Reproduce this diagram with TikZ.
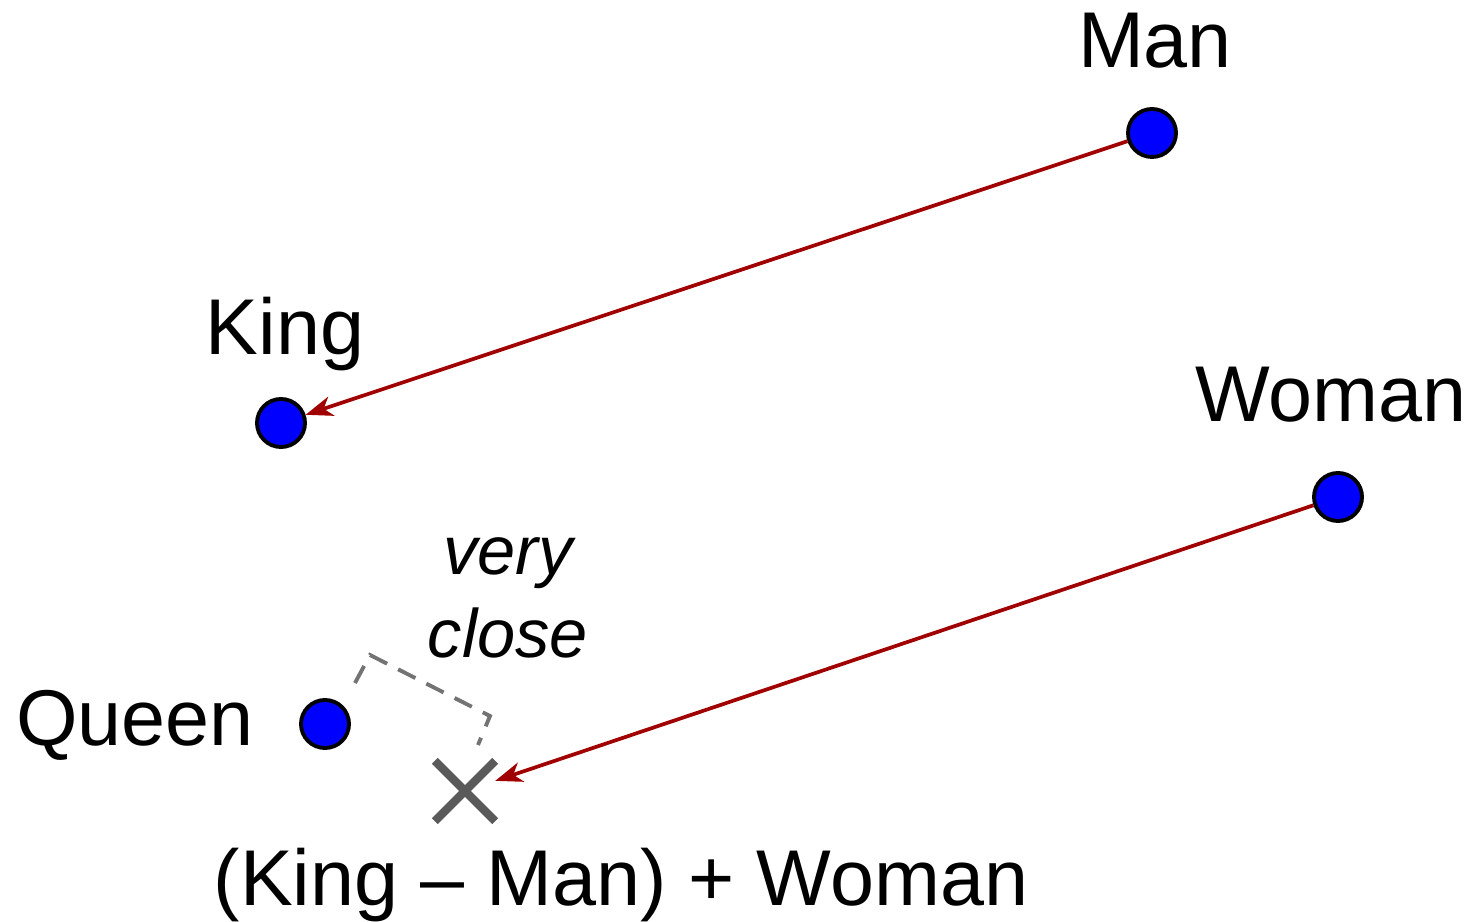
\documentclass[tikz,border=0pt]{standalone}
\usepackage{fontspec}
\setmainfont{Liberation Sans}
\usetikzlibrary{arrows.meta,shapes.misc}
\definecolor{dotblue}{RGB}{0,0,255}
\definecolor{vecred}{RGB}{160,0,0}
\definecolor{crossgray}{RGB}{90,90,90}
\tikzset{
    worddot/.style={circle, draw=black, fill=dotblue, line width=1.1pt, minimum size=0.48cm, inner sep=0pt},
    wordname/.style={anchor=base, font=\fontsize{22.5}{26}\selectfont},
    offset/.style={-{Stealth[length=0.27cm, width=0.2cm, inset=0.08cm]}, vecred, line width=1.05pt},
}
\begin{document}
\begin{tikzpicture}[x=0.01cm, y=-0.01cm]
    \useasboundingbox (0, 0) rectangle (1473, 922);

    % Words
    \node[worddot] (man) at (1152, 133) {};
    \node[wordname] (manname) at (1155, 68) {Man};
    \node[worddot] (king) at (281, 423) {};
    \node[wordname] (kingname) at (285, 355) {King};
    \node[worddot] (woman) at (1338, 497) {};
    \node[wordname] (womanname) at (1331, 422) {Woman};
    \node[worddot] (queen) at (325, 724) {};
    \node[wordname] (queenname) at (135, 745) {Queen};

    % Result
    \node[cross out, draw=crossgray, line width=2.4pt, minimum size=0.52cm, inner sep=0pt] (result) at (465, 791) {};
    \node[wordname] (resultname) at (621, 905) {(King -- Man) + Woman};

    % Offsets
    \draw[offset] (man) -- (king);
    \draw[offset] (woman) -- (result);

    % very close
    \draw[crossgray!85, line width=1.1pt, dash pattern=on 5.5pt off 3.5pt] (355, 683) -- (370, 655) -- (490, 716) -- (478, 745);
    \node[anchor=base, font=\fontsize{19.5}{22}\selectfont\itshape] (very) at (508, 575) {very};
    \node[anchor=base, font=\fontsize{19.5}{22}\selectfont\itshape] (close) at (508, 657) {close};
\end{tikzpicture}
\end{document}
